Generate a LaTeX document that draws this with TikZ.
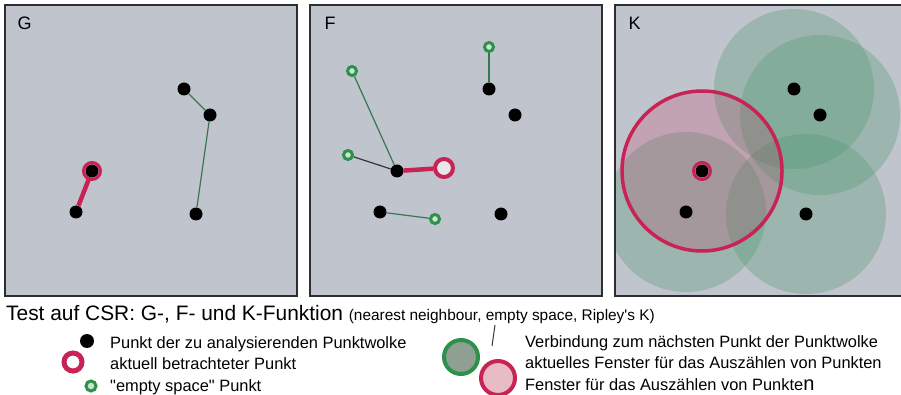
\documentclass[tikz,border=0pt]{standalone}
\usepackage{fontspec}
\setmainfont{Liberation Sans}[Ligatures=TeXOff]
\usetikzlibrary{positioning}
\definecolor{feld}{RGB}{192,196,204}
\definecolor{rahmen}{RGB}{45,45,50}
\definecolor{rot}{RGB}{200,35,85}
\definecolor{gruen}{RGB}{45,145,75}
\definecolor{linie}{RGB}{55,120,80}
\definecolor{dunkel}{RGB}{50,55,55}
\definecolor{kreis}{RGB}{75,150,110}
\tikzset{
  panel/.style = {draw=rahmen, line width=2pt, fill=feld},
  buchst/.style = {anchor=base west, font=\fontsize{18}{18}\selectfont},
  pkt/.style = {circle, fill=black, inner sep=0pt, minimum size=13pt},% punkt der punktwolke
  akt/.style = {circle, draw=rot, line width=3pt, fill=rot!45, inner sep=0pt,
    minimum size=17pt},% aktueller punkt, mit punkt darin
  leer/.style = {circle, draw=rot, line width=4pt, fill=feld!40!white,
    inner sep=0pt, minimum size=18pt},% offener ring
  esp/.style = {circle, draw=gruen, line width=3pt, fill=gruen!25!white,
    inner sep=0pt, minimum size=9pt},% empty space punkt
  nn/.style = {draw=linie, line width=1.2pt},
  nnakt/.style = {draw=rot, line width=4.5pt},
  fenster/.style = {circle, fill=kreis, fill opacity=0.3, inner sep=0pt,
    minimum size=160pt},
  aktfenster/.style = {circle, draw=rot, line width=3.5pt, fill=rot,
    fill opacity=0.2, inner sep=0pt, minimum size=160pt},
  txt/.style = {anchor=base west, inner sep=0pt,
    font=\fontsize{16.4}{16.4}\selectfont}
}
\begin{document}
\begin{tikzpicture}[x=1pt, y=-1pt]
\useasboundingbox (0,0) rectangle (901,395);

% G-Funktion
\draw[panel] (5,5) rectangle (297,296);
\node[buchst] (lg) at (14,30) {G};
\node[akt] (rg) at (92,171) {};
\node[pkt] (g1) at (184,89) {};
\node[pkt] (g2) at (210,115) {};
\node[pkt] (g3) at (196,214) {};
\node[pkt] (g4) at (92,171) {};
\node[pkt] (g5) at (76,212) {};
\draw[nn] (g1) -- (g2) -- (g3);
\draw[nnakt] (g4) -- (g5);

% F-Funktion
\draw[panel] (310,5) rectangle (602,296);
\node[buchst] (lf) at (321,30) {F};
\node[pkt] (f1) at (489,89) {};
\node[pkt] (f2) at (515,115) {};
\node[pkt] (f3) at (501,214) {};
\node[pkt] (f4) at (397,171) {};
\node[pkt] (f5) at (380,212) {};
\node[leer] (rf) at (444,168) {};
\node[esp] (e1) at (489,47) {};
\node[esp] (e2) at (352,71) {};
\node[esp] (e3) at (348,155) {};
\node[esp] (e4) at (435,219) {};
\draw[nn] (e1) -- (f1);
\draw[nn] (e2) -- (f4);
\draw[draw=dunkel, line width=1.2pt] (e3) -- (f4);
\draw[nn] (f5) -- (e4);
\draw[nnakt] (f4) -- (rf);

% K-Funktion
\begin{scope}
  \clip (615,5) rectangle (901,296);
  \fill[feld] (615,5) rectangle (901,296);
  \node[fenster] (w1) at (794,89) {};
  \node[fenster] (w2) at (820,115) {};
  \node[fenster] (w3) at (806,214) {};
  \node[fenster] (w5) at (686,212) {};
  \node[aktfenster] (w4) at (702,171) {};
\end{scope}
\draw[rahmen, line width=2pt] (901,5) -- (615,5) -- (615,296) -- (901,296);
\node[buchst] (lk) at (625,30) {K};
\node[akt] (rk) at (702,171) {};
\node[pkt] (k1) at (794,89) {};
\node[pkt] (k2) at (820,115) {};
\node[pkt] (k3) at (806,214) {};
\node[pkt] (k4) at (702,171) {};
\node[pkt] (k5) at (686,212) {};

% Titel
\node[anchor=base west, inner sep=0pt, font=\fontsize{20.9}{20.9}\selectfont]
  (titel) at (6,320) {Test auf CSR: G-, F- und K-Funktion
  {\fontsize{15.4}{15.4}\selectfont(nearest neighbour, empty space, Ripley's K)}};

% Legende links
\node[pkt, minimum size=14pt] (lp) at (87,341) {};
\node[leer, minimum size=18pt, line width=5pt, fill=white] (lr) at (73,362) {};
\node[esp, minimum size=10pt] (le) at (91,386) {};
\node[txt] (t1) at (110,348) {Punkt der zu analysierenden Punktwolke};
\node[txt] (t2) at (110,369) {aktuell betrachteter Punkt};
\node[txt] (t3) at (110,391) {"empty space" Punkt};

% Legende rechts
\coordinate (s1) at (495,325);
\coordinate (s2) at (492,346);
\draw[dunkel, line width=1pt] (s1) -- (s2);
\node[circle, draw=gruen, line width=4pt, fill={rgb,255:red,143;green,160;blue,146},
  inner sep=0pt, minimum size=34pt] (lw) at (461,357) {};
\node[circle, draw=rot, line width=4pt, fill={rgb,255:red,232;green,188;blue,196},
  inner sep=0pt, minimum size=34pt] (la) at (498,378) {};
\node[txt] (t4) at (525,347) {Verbindung zum nächsten Punkt der Punktwolke};
\node[txt] (t5) at (525,368) {aktuelles Fenster für das Auszählen von Punkten};
\node[txt] (t6) at (525,390) {Fenster für das Auszählen von
  Punkte{\fontsize{20}{20}\selectfont n}};
\end{tikzpicture}
\end{document}
